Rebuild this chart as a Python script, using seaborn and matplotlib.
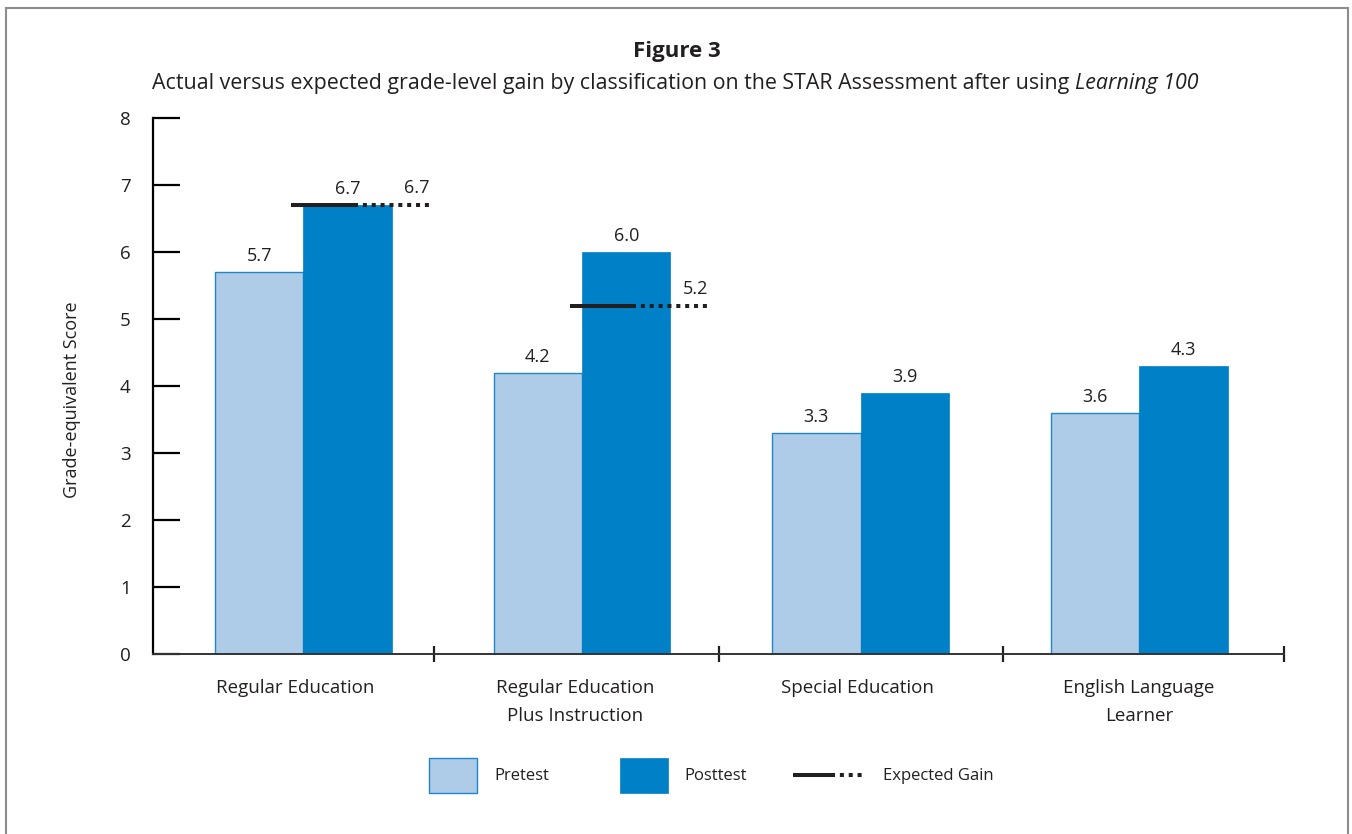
import matplotlib
matplotlib.use("Agg")
import matplotlib.pyplot as plt
from matplotlib.patches import Patch, Rectangle
from matplotlib.lines import Line2D
from matplotlib.legend_handler import HandlerBase
import pandas as pd
import seaborn as sns

# ---- data -------------------------------------------------------------
categories = [
    "Regular Education",
    "Regular Education\nPlus Instruction",
    "Special Education",
    "English Language\nLearner",
]
pretest = [5.7, 4.2, 3.3, 3.6]
posttest = [6.7, 6.0, 3.9, 4.3]
expected_categories = ["Regular Education", "Regular Education\nPlus Instruction"]
expected_gain = [6.7, 5.2]
y_ticks = [0, 1, 2, 3, 4, 5, 6, 7, 8]

TEXT = "#231f20"
PRE_COLOR = "#aecbe8"
PRE_EDGE = "#1f86c9"
POST_COLOR = "#0080c6"

df = pd.DataFrame({
    "Classification": categories * 2,
    "Test": ["Pretest"] * len(categories) + ["Posttest"] * len(categories),
    "Score": pretest + posttest,
})

sns.set_theme(style="white")
plt.rcParams["font.family"] = ["Open Sans", "DejaVu Sans"]
plt.rcParams["text.color"] = TEXT

W, H = 1352, 834
fig = plt.figure(figsize=(W / 100, H / 100), dpi=100)
ax = fig.add_axes([153 / W, 180 / H, (1284 - 153) / W, (654 - 118) / H])

sns.barplot(
    data=df, x="Classification", y="Score", hue="Test",
    palette={"Pretest": PRE_COLOR, "Posttest": POST_COLOR},
    width=0.635, gap=0, saturation=1, errorbar=None, legend=False, ax=ax,
)

pre_bars, post_bars = ax.containers[0], ax.containers[1]
for p in pre_bars:
    p.set_edgecolor(PRE_EDGE)
    p.set_linewidth(1.0)
for p in post_bars:
    p.set_edgecolor(POST_COLOR)
    p.set_linewidth(0.5)

for c in ax.containers:
    ax.bar_label(c, fmt="%.1f", padding=5, fontsize=13, color=TEXT)

# expected-gain markers: solid segment over the posttest bar, dotted tail
for cat, val in zip(expected_categories, expected_gain):
    bar = post_bars[categories.index(cat)]
    x0, w = bar.get_x(), bar.get_width()
    ax.plot([x0 - 0.14 * w, x0 + 0.57 * w], [val, val], color=TEXT, lw=2.9,
            solid_capstyle="butt", zorder=5)
    ax.plot([x0 + 0.57 * w, x0 + 1.42 * w], [val, val], color=TEXT, lw=2.9,
            linestyle=(0, (1, 1.2)), dash_capstyle="butt", zorder=5)
    ax.annotate(f"{val:.1f}", (x0 + 1.28 * w, val), xytext=(0, 12),
                textcoords="offset points", ha="center", va="center",
                fontsize=13, color=TEXT)

ax.set_xlim(-0.54, 3.52)
ax.set_ylim(0, 8)
ax.set_yticks(y_ticks)
# category names sit a touch left of each bar pair
ax.set_xticks([-0.03, 0.975, 1.99, 3.0], labels=categories)
ax.set_xlabel("")
ax.set_ylabel("Grade-equivalent Score", fontsize=13, labelpad=28, color=TEXT)
ax.yaxis.label.set_y(0.474)

ax.tick_params(axis="y", direction="in", length=19.5, width=1.6, pad=16,
               labelsize=13.5, color="black", labelcolor=TEXT, left=True)
ax.tick_params(axis="x", which="major", length=0, pad=18, labelsize=13.5,
               labelcolor=TEXT)
for lbl in ax.get_xticklabels():
    lbl.set_linespacing(1.7)
ax.set_xticks([0.47, 1.49, 2.51, 3.52], minor=True)
ax.tick_params(axis="x", which="minor", direction="inout", length=12,
               width=1.6, color=TEXT, bottom=True)

for side in ("top", "right"):
    ax.spines[side].set_visible(False)
ax.spines["left"].set_linewidth(1.6)
ax.spines["left"].set_color("black")
ax.spines["bottom"].set_linewidth(1.4)
ax.spines["bottom"].set_color("#333333")

# ---- titles -----------------------------------------------------------
fig.text(677 / W, 1 - 51 / H, "Figure 3", ha="center", va="center",
         fontsize=16, fontweight="bold", color=TEXT)

renderer = fig.canvas.get_renderer()
sub_fs = 15.4
sub_y = 1 - 84 / H
t1 = fig.text(0, sub_y, "Actual versus expected grade-level gain by classification "
              "on the STAR Assessment after using", fontsize=sub_fs, va="center",
              color=TEXT)
t2 = fig.text(0, sub_y, "Learning 100", fontsize=sub_fs, style="italic",
              va="center", color=TEXT)
probe_a = fig.text(0, 0, "x x", fontsize=sub_fs)
probe_b = fig.text(0, 0, "xx", fontsize=sub_fs)
space_w = (probe_a.get_window_extent(renderer).width
           - probe_b.get_window_extent(renderer).width)
probe_a.remove()
probe_b.remove()
w1 = t1.get_window_extent(renderer).width
w2 = t2.get_window_extent(renderer).width
start = 675 - (w1 + space_w + w2) / 2
t1.set_x(start / W)
t2.set_x((start + w1 + space_w) / W)

# ---- outer frame ------------------------------------------------------
fig.add_artist(Rectangle((6 / W, -0.05), (1348 - 6) / W, (H - 8) / H + 0.05,
                         transform=fig.transFigure, fill=False,
                         edgecolor="#8c8c8c", lw=1.5))

# ---- legend -----------------------------------------------------------
class RightBoxHandler(HandlerBase):
    def create_artists(self, legend, orig_handle, xdescent, ydescent, width,
                       height, fontsize, trans):
        bw, bh = 34.6, 25.2
        x0 = -xdescent + width - bw
        y0 = -ydescent + (height - bh) / 2
        r = Rectangle((x0, y0), bw, bh, facecolor=orig_handle.get_facecolor(),
                      edgecolor=orig_handle.get_edgecolor(),
                      lw=orig_handle.get_linewidth(), transform=trans)
        return [r]


class SolidDotHandler(HandlerBase):
    def create_artists(self, legend, orig_handle, xdescent, ydescent, width,
                       height, fontsize, trans):
        y = -ydescent + height / 2
        x0 = -xdescent
        xm = x0 + 0.52 * width
        x1 = x0 + width
        solid = Line2D([x0, xm], [y, y], color=TEXT, lw=2.9,
                       solid_capstyle="butt", transform=trans)
        dots = Line2D([xm, x1], [y, y], color=TEXT, lw=2.9,
                      linestyle=(0, (1, 1.2)), dash_capstyle="butt",
                      transform=trans)
        return [solid, dots]


leg_fs = 12
h_pre = Patch(facecolor=PRE_COLOR, edgecolor=PRE_EDGE, linewidth=1.0)
h_post = Patch(facecolor=POST_COLOR, edgecolor=POST_COLOR, linewidth=0.5)
h_exp = Line2D([], [], color=TEXT)
fig.legend(
    [h_pre, h_post, h_exp], ["Pretest", "Posttest", "Expected Gain"],
    handler_map={h_pre: RightBoxHandler(), h_post: RightBoxHandler(),
                 h_exp: SolidDotHandler()},
    loc="center", bbox_to_anchor=(0.5168, 59 / H), ncol=3, frameon=False,
    fontsize=leg_fs, handlelength=52.6 / leg_fs, handleheight=25.2 / leg_fs,
    handletextpad=1.0, columnspacing=2.75, labelcolor=TEXT,
)

fig.savefig("out.png", dpi=100)
